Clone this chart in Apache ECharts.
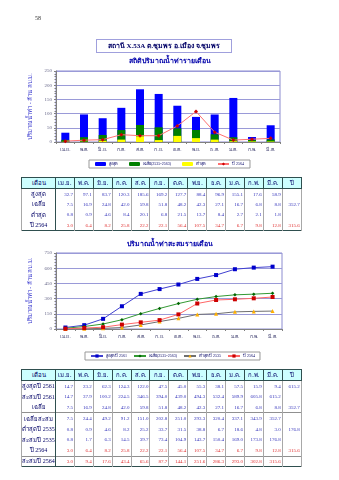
<!DOCTYPE html>
<html>
<head>
<meta charset="utf-8">
<script src="https://cdn.jsdelivr.net/npm/echarts@6/dist/echarts.min.js"></script>
<style>
html,body{margin:0;padding:0;background:#fff;}
#page{position:relative;width:339px;height:480px;overflow:hidden;background:#fff;font-family:'Liberation Serif','DejaVu Serif','Noto Sans',serif;}
#chart{position:absolute;left:0;top:0;width:339px;height:480px;}
#pageno{position:absolute;left:35px;top:15px;font-size:6px;color:#333;}
#titlebox{position:absolute;left:96px;top:39px;width:134px;height:12px;border:1px solid #a0a0dd;color:#000066;font-weight:bold;font-size:7px;line-height:12px;text-align:center;white-space:nowrap;}
table.dt{position:absolute;left:21px;border-collapse:collapse;table-layout:fixed;border:1.5px solid #2f4f4f;font-size:5px;}
table.dt td{padding:0 1px 0 0;border-left:1px solid #a8a8a8;border-right:1px solid #a8a8a8;text-align:right;color:#3333bb;white-space:nowrap;overflow:hidden;line-height:1;}
table.dt td.lab{text-align:center;color:#000066;font-size:6px;padding:0;}
table.dt tr.hd td{background:#ccffff;color:#000066;text-align:center;font-size:6px;border:1px solid #2f4f4f;padding:0;}
table.dt tr.red td{color:#e03030;}
table.dt tr.red td.lab{color:#000066;}
table.dt tr.sep td{border-top:1px solid #909090;}
table.dt td.lab{border-right:1px solid #2f4f4f;}
</style>
</head>
<body>
<div id="page">
  <div id="chart"></div>
  <div id="pageno">58</div>
  <div id="titlebox">สถานี X.53A ต.ชุมพร อ.เมือง จ.ชุมพร</div>
  <table class="dt" id="t1"></table>
  <table class="dt" id="t2"></table>
</div>
<script>
// ---------- data ----------
const months = ['เม.ย.','พ.ค.','มิ.ย.','ก.ค.','ส.ค.','ก.ย.','ต.ค.','พ.ย.','ธ.ค.','ม.ค.','ก.พ.','มี.ค.'];
const maxMonthly   = [32.7, 97.1, 83.7, 120.3, 185.6, 169.2, 127.7, 88.4, 96.9, 155.1, 17.6, 58.9];
const avgMonthly   = [7.5, 16.9, 24.8, 42.0, 59.8, 51.8, 48.2, 42.3, 27.1, 16.7, 6.8, 8.8];
const minMonthly   = [0.8, 0.9, 4.6, 8.4, 20.1, 6.8, 21.5, 13.7, 8.4, 2.7, 2.1, 1.8];
const y2564Monthly = [3.0, 6.4, 8.2, 25.8, 22.2, 22.1, 56.4, 107.5, 34.7, 6.7, 9.8, 12.8];

const max2561Monthly = [14.7, 23.2, 62.3, 124.3, 122.0, 47.5, 45.0, 55.3, 38.1, 57.5, 15.9, 9.4];
const max2561Cum     = [14.7, 37.9, 100.2, 224.5, 346.5, 394.0, 439.0, 494.3, 532.4, 589.9, 605.8, 615.2];
const avgCum         = [7.5, 24.4, 49.2, 91.2, 151.0, 202.8, 251.0, 293.3, 320.4, 337.1, 343.9, 352.7];
const min2535Monthly = [0.8, 0.9, 4.6, 8.2, 25.2, 33.7, 31.5, 38.8, 6.7, 18.6, 4.8, 3.0];
const min2535Cum     = [0.8, 1.7, 6.3, 14.5, 39.7, 73.4, 104.9, 143.7, 150.4, 169.0, 173.8, 176.8];
const y2564Cum       = [3.0, 9.4, 17.6, 43.4, 65.6, 87.7, 144.1, 251.6, 286.3, 293.0, 302.8, 315.6];

const annualMax2561 = '615.2';
const annualAvg     = '352.7';
const annualMin2535 = '176.8';
const annual2564    = '315.6';

const yTicks1 = {min: 0, max: 250, interval: 50};
const yTicks2 = {min: 0, max: 750, interval: 150};
const yAxisName = 'ปริมาณน้ำท่า - ล้าน ลบ.ม.';

// ---------- tables ----------
function fmt(v){ return (typeof v === 'number') ? v.toFixed(1) : v; }
function buildTable(id, top, rows, rowH){
  const t = document.getElementById(id);
  t.style.top = top + 'px';
  let html = '<colgroup><col style="width:34px">';
  for (let i = 0; i < 12; i++) html += '<col style="width:18.9px">';
  html += '<col style="width:19px"></colgroup>';
  html += '<tr class="hd" style="height:11px"><td>เดือน</td>' + months.map(m => '<td>' + m + '</td>').join('') + '<td>ปี</td></tr>';
  rows.forEach(r => {
    html += '<tr class="' + (r.cls || '') + '" style="height:' + rowH + 'px"><td class="lab">' + r.label + '</td>' +
      r.vals.map(v => '<td>' + fmt(v) + '</td>').join('') + '<td>' + (r.year || '') + '</td></tr>';
  });
  t.innerHTML = html;
}
buildTable('t1', 177, [
  {label: 'สูงสุด', vals: maxMonthly},
  {label: 'เฉลี่ย', vals: avgMonthly, year: annualAvg},
  {label: 'ต่ำสุด', vals: minMonthly},
  {label: 'ปี 2564', vals: y2564Monthly, year: annual2564, cls: 'red'}
], 10.6);
buildTable('t2', 369, [
  {label: 'สูงสุดปี 2561', vals: max2561Monthly, year: annualMax2561},
  {label: 'สะสมปี 2561', vals: max2561Cum},
  {label: 'เฉลี่ย', vals: avgMonthly, year: annualAvg},
  {label: 'เฉลี่ยสะสม', vals: avgCum, cls: 'sep'},
  {label: 'ต่ำสุดปี 2535', vals: min2535Monthly, year: annualMin2535},
  {label: 'สะสมปี 2535', vals: min2535Cum},
  {label: 'ปี 2564', vals: y2564Monthly, year: annual2564, cls: 'red'},
  {label: 'สะสมปี 2564', vals: y2564Cum, cls: 'red sep'}
], 10.8);

// ---------- chart ----------
const ff = "'Liberation Serif','DejaVu Serif','Noto Sans',serif";
const legendMap = {'เฉลี่ยสะสม': 'เฉลี่ย(2535-2563)', 'สะสมปี 2564': 'ปี 2564'};
const chart = echarts.init(document.getElementById('chart'), null, {renderer: 'canvas'});
function xAx(gi){
  return {
    type: 'category', gridIndex: gi, data: months, boundaryGap: true,
    axisLine: {lineStyle: {color: '#808080', width: 1}},
    axisTick: {show: true, length: 2, lineStyle: {color: '#808080'}},
    axisLabel: {fontSize: 5, color: '#333366', margin: 5, fontFamily: ff, interval: 0},
    splitLine: {show: false}
  };
}
function yAx(gi, t){
  return {
    type: 'value', gridIndex: gi, min: t.min, max: t.max, interval: t.interval,
    name: yAxisName, nameLocation: 'middle', nameGap: 21, nameRotate: 90,
    nameTextStyle: {fontSize: 6, color: '#3333cc', fontFamily: ff},
    axisLine: {show: true, lineStyle: {color: '#808080'}},
    axisTick: {show: true, length: 2, lineStyle: {color: '#808080'}},
    minorTick: {show: true, length: 1.5, splitNumber: 5, lineStyle: {color: '#808080'}},
    axisLabel: {fontSize: 5, color: '#666688', margin: 4, fontFamily: ff},
    splitLine: {show: true, lineStyle: {color: '#9a9ad8', width: 1}}
  };
}
const option = {
  animation: false,
  textStyle: {fontFamily: ff},
  title: [
    {text: 'สถิติปริมาณน้ำท่ารายเดือน', left: 'center', top: 58, padding: 0,
     textStyle: {fontSize: 7, fontWeight: 'bold', color: '#0000aa', fontFamily: ff}},
    {text: 'ปริมาณน้ำท่าสะสมรายเดือน', left: 'center', top: 241, padding: 0,
     textStyle: {fontSize: 7, fontWeight: 'bold', color: '#0000aa', fontFamily: ff}}
  ],
  grid: [
    {left: 56, top: 71, width: 224, height: 71, show: true, borderColor: '#8c8cd0', borderWidth: 1, backgroundColor: 'transparent'},
    {left: 56, top: 253, width: 226, height: 76, show: true, borderColor: '#8c8cd0', borderWidth: 1, backgroundColor: 'transparent'}
  ],
  xAxis: [xAx(0), xAx(1)],
  yAxis: [yAx(0, yTicks1), yAx(1, yTicks2)],
  legend: [
    {left: 89, top: 160, orient: 'horizontal', itemWidth: 11, itemHeight: 4, itemGap: 11,
     padding: [2, 6], borderColor: '#999', borderWidth: 1,
     textStyle: {fontSize: 4, color: '#000066', fontFamily: ff, padding: [0, 0, 0, -2]},
     data: ['สูงสุด', 'เฉลี่ย(2535-2563)', 'ต่ำสุด', 'ปี 2564']},
    {left: 85, top: 352, orient: 'horizontal', itemWidth: 12, itemHeight: 4, itemGap: 6,
     padding: [2, 5], borderColor: '#999', borderWidth: 1,
     textStyle: {fontSize: 4, color: '#000066', fontFamily: ff, padding: [0, 0, 0, -2]},
     formatter: n => legendMap[n] || n,
     data: ['สูงสุดปี 2561', 'เฉลี่ยสะสม', 'ต่ำสุดปี 2535', 'สะสมปี 2564']}
  ],
  series: [
    {name: 'สูงสุด', type: 'bar', xAxisIndex: 0, yAxisIndex: 0, data: maxMonthly, barWidth: 8, barGap: '-100%', z: 2,
     itemStyle: {color: '#0000ff'}},
    {name: 'เฉลี่ย(2535-2563)', type: 'bar', xAxisIndex: 0, yAxisIndex: 0, data: avgMonthly, barWidth: 8, barGap: '-100%', z: 3,
     itemStyle: {color: '#008000'}},
    {name: 'ต่ำสุด', type: 'bar', xAxisIndex: 0, yAxisIndex: 0, data: minMonthly, barWidth: 8, barGap: '-100%', z: 4,
     itemStyle: {color: '#ffff00'}},
    {name: 'ปี 2564', type: 'line', xAxisIndex: 0, yAxisIndex: 0, data: y2564Monthly, z: 6,
     symbol: 'diamond', symbolSize: 4, lineStyle: {color: '#ff7070', width: 1}, itemStyle: {color: '#cc0000'}},

    {name: 'สูงสุดปี 2561', type: 'line', xAxisIndex: 1, yAxisIndex: 1, data: max2561Cum, z: 5,
     symbol: 'rect', symbolSize: 4, lineStyle: {color: '#4040d0', width: 1}, itemStyle: {color: '#0000cc'}},
    {name: 'เฉลี่ยสะสม', type: 'line', xAxisIndex: 1, yAxisIndex: 1, data: avgCum, z: 5,
     symbol: 'diamond', symbolSize: 3.5, lineStyle: {color: '#339933', width: 1}, itemStyle: {color: '#006600'}},
    {name: 'ต่ำสุดปี 2535', type: 'line', xAxisIndex: 1, yAxisIndex: 1, data: min2535Cum, z: 5,
     symbol: 'triangle', symbolSize: 4, lineStyle: {color: '#707070', width: 1}, itemStyle: {color: '#ffb000'}},
    {name: 'สะสมปี 2564', type: 'line', xAxisIndex: 1, yAxisIndex: 1, data: y2564Cum, z: 5,
     symbol: 'rect', symbolSize: 4, lineStyle: {color: '#ff6666', width: 1}, itemStyle: {color: '#cc0000'}}
  ]
};
chart.setOption(option);
</script>
</body>
</html>
